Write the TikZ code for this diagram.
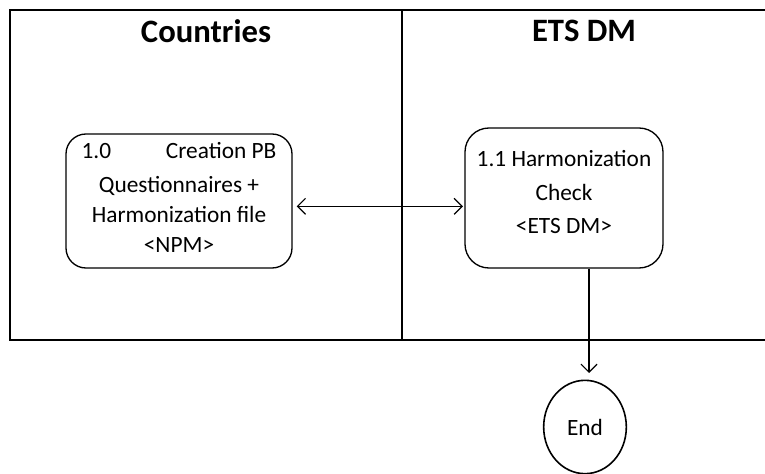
\documentclass[tikz,border=0pt]{standalone}
\usepackage{fontspec}
\setmainfont{Carlito}
\usetikzlibrary{arrows.meta,shapes.geometric}
\begin{document}
\begin{tikzpicture}[x=0.75pt,y=-0.75pt,
  frame/.style={line width=1.4pt},
  head/.style={font=\fontsize{24.5}{28}\selectfont\bfseries, inner sep=0pt},
  proc/.style={draw, line width=1pt, rounded corners=15pt, align=center, inner sep=0pt},
  endnode/.style={draw, ellipse, line width=1.2pt, inner sep=0pt, font=\fontsize{17.5}{20}\selectfont},
  arr/.style={line width=0.9pt, {Straight Barb[length=6pt,width=12pt]}-{Straight Barb[length=6pt,width=12pt]}},
  arrd/.style={line width=0.9pt, -{Straight Barb[length=6pt,width=12pt]}}
]
\useasboundingbox (0,0) rectangle (765,474);

% swimlane frame
\draw[frame] (765,10) -- (10,10) -- (10,340) -- (765,340);
\draw[frame] (402,10) -- (402,340);

% lane headings
\node[head] (hc) at (206,31) {Countries};
\node[head] (he) at (584,31) {ETS DM};

% process boxes
\node[proc, minimum width=169.5pt, minimum height=100.5pt,
      font=\fontsize{17.5}{22.5}\selectfont, text depth=5pt] (l) at (179,201)
  {\makebox[146pt]{1.0\hfill Creation PB}\\[3pt]Questionnaires +\\Harmonization file\\<NPM>};
\node[proc, minimum width=148.5pt, minimum height=105pt, rounded corners=18pt,
      font=\fontsize{17.5}{25}\selectfont, text depth=9pt] (r) at (564,198)
  {1.1 Harmonization\\Check\\<ETS DM>};

% end event
\node[endnode, minimum width=62pt, minimum height=70pt] (e) at (585,427) {End};
\coordinate (t) at (589,373);

% connectors
\draw[arr, shorten <=3pt, shorten >=1pt] ([yshift=-4pt]l.east) -- ([yshift=-4pt]l.east -| r.west);
\draw[arrd] (r.south -| t) -- (t);
\end{tikzpicture}
\end{document}
